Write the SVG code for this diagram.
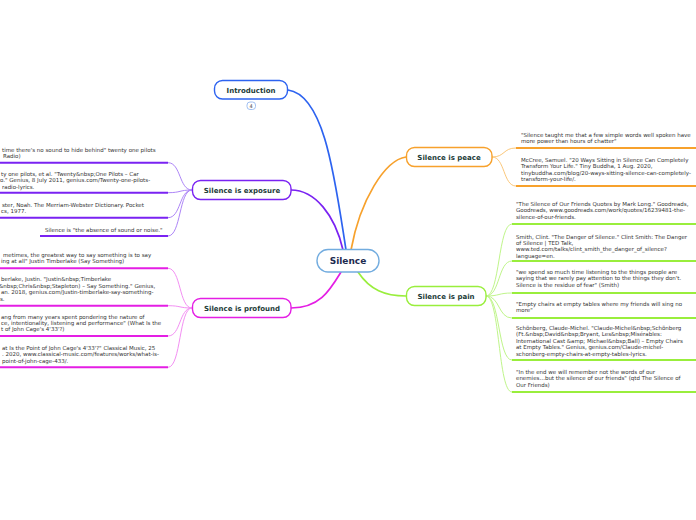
<svg xmlns="http://www.w3.org/2000/svg" width="696" height="520" viewBox="0 0 696 520">
<style>
.node{fill:#fff;stroke-width:1.4}
.nt{font-family:"DejaVu Sans",Verdana,sans-serif;font-weight:bold;font-size:7px;fill:#1b3b38;text-anchor:middle}
.lt{font-family:"DejaVu Sans",Verdana,sans-serif;font-size:5.5px;fill:#333}
.ul{stroke-width:2;fill:none}
.cv{stroke-width:1;fill:none}
.br{fill:none;stroke-width:1.7;stroke-linecap:round}
</style>
<rect width="696" height="520" fill="#fff"/>
<g id="connectors">
<path class="br" d="M288,90 C325,95 335,180 346,250" stroke="#2d63f0"/>
<path class="br" d="M291,190 C315,190 335,215 343,250" stroke="#7a22f2"/>
<path class="br" d="M406,157 C385,160 360,200 351,250" stroke="#f7a12c"/>
<path class="br" d="M291,308 C320,308 330,290 341,272" stroke="#e41ee4"/>
<path class="br" d="M406,296 C385,296 370,290 358,272" stroke="#99ee3c"/>
<g stroke="#ad85f7" class="cv">
<path class="cv" d="M168,162.7 C181,162.7 179,190 192,190"/>
<path class="cv" d="M168,192.7 C181,192.7 179,190 192,190"/>
<path class="cv" d="M168,217.7 C181,217.7 179,190 192,190"/>
<path class="cv" d="M168,236 C181,236 179,190 192,190"/>
</g>
<g stroke="#f38ff3" class="cv">
<path class="cv" d="M168,268.3 C181,268.3 179,308 192,308"/>
<path class="cv" d="M168,305.7 C181,305.7 179,308 192,308"/>
<path class="cv" d="M168,336 C181,336 179,308 192,308"/>
<path class="cv" d="M168,367.3 C181,367.3 179,308 192,308"/>
</g>
<g stroke="#fbc77a" class="cv">
<path class="cv" d="M492,157 C505,157 503,148 516,148"/>
<path class="cv" d="M492,157 C505,157 503,186 516,186"/>
</g>
<g stroke="#bff58a" class="cv">
<path class="cv" d="M486,296 C500,296 498,224 512,224"/>
<path class="cv" d="M486,296 C500,296 498,261 512,261"/>
<path class="cv" d="M486,296 C500,296 498,293 512,293"/>
<path class="cv" d="M486,296 C500,296 498,318 512,318"/>
<path class="cv" d="M486,296 C500,296 498,360 512,360"/>
<path class="cv" d="M486,296 C500,296 498,392 512,392"/>
</g>
</g>
<g id="center">
<rect class="node" x="317" y="249.5" width="62" height="22.5" rx="11" stroke="#72acdf" fill="#fafcff"/>
<text class="nt" x="348" y="264.3" style="font-size:9px;fill:#1d2b4f">Silence</text>
</g>
<g id="introduction">
<rect class="node" x="214.5" y="80.5" width="73" height="18.5" rx="8" stroke="#2d63f0"/>
<text class="nt" x="251" y="92.5">Introduction</text>
<rect x="247" y="102" width="8.5" height="7.5" rx="3" fill="#fff" stroke="#8ab0ee" stroke-width="0.8"/>
<text x="251.2" y="107.8" style="font-family:'DejaVu Sans',sans-serif;font-size:5px;fill:#444;text-anchor:middle">4</text>
</g>
<g id="exposure">
<rect class="node" x="192.5" y="180.5" width="98.5" height="19" rx="8" stroke="#7a22f2"/>
<text class="nt" x="242" y="192.6">Silence is exposure</text>
</g>
<g id="exposure-leaves">
<line class="ul" x1="0" y1="162.7" x2="168" y2="162.7" stroke="#7a22f2"/>
<text class="lt" x="2" y="152">time there's no sound to hide behind" twenty one pilots</text>
<text class="lt" x="3" y="158.2">Radio)</text>
<line class="ul" x1="0" y1="192.7" x2="168" y2="192.7" stroke="#7a22f2"/>
<text class="lt" x="1" y="176">ty one pilots, et al. "Twenty&amp;nbsp;One Pilots – Car</text>
<text class="lt" x="0" y="182.4">o." Genius, 8 July 2011, genius.com/Twenty-one-pilots-</text>
<text class="lt" x="2" y="188.8">radio-lyrics.</text>
<line class="ul" x1="0" y1="217.7" x2="168" y2="217.7" stroke="#7a22f2"/>
<text class="lt" x="2" y="206.5">ster, Noah. The Merriam-Webster Dictionary. Pocket</text>
<text class="lt" x="1" y="212.9">cs, 1977.</text>
<line class="ul" x1="40" y1="236" x2="168" y2="236" stroke="#7a22f2"/>
<text class="lt" x="45" y="232">Silence is "the absence of sound or noise."</text>
</g>
<g id="profound">
<rect class="node" x="192.5" y="298.5" width="98.5" height="19" rx="8" stroke="#e41ee4"/>
<text class="nt" x="242" y="310.6">Silence is profound</text>
</g>
<g id="profound-leaves">
<line class="ul" x1="0" y1="268.3" x2="168" y2="268.3" stroke="#e41ee4"/>
<text class="lt" x="3" y="257">metimes, the greatest way to say something is to say</text>
<text class="lt" x="1" y="263.4">ing at all" Justin Timberlake (Say Something)</text>
<line class="ul" x1="0" y1="305.7" x2="168" y2="305.7" stroke="#e41ee4"/>
<text class="lt" x="1" y="281.3">berlake, Justin. "Justin&amp;nbsp;Timberlake</text>
<text class="lt" x="-1" y="287.7">&amp;nbsp;Chris&amp;nbsp;Stapleton) – Say Something." Genius,</text>
<text class="lt" x="1" y="294.1">an. 2018, genius.com/Justin-timberlake-say-something-</text>
<text class="lt" x="0" y="300.5">s.</text>
<line class="ul" x1="0" y1="336" x2="168" y2="336" stroke="#e41ee4"/>
<text class="lt" x="1" y="318.5">ang from many years spent pondering the nature of</text>
<text class="lt" x="1" y="324.9">ce, intentionality, listening and performance" (What Is the</text>
<text class="lt" x="1" y="331.3">t of John Cage's 4'33'?)</text>
<line class="ul" x1="0" y1="367.3" x2="168" y2="367.3" stroke="#e41ee4"/>
<text class="lt" x="2" y="349.7">at Is the Point of John Cage's 4'33'?" Classical Music, 25</text>
<text class="lt" x="2" y="356.1">. 2020, www.classical-music.com/features/works/what-is-</text>
<text class="lt" x="2" y="362.5">point-of-john-cage-433/.</text>
</g>
<g id="peace">
<rect class="node" x="406.5" y="147.5" width="85.5" height="19" rx="8" stroke="#f7a12c"/>
<text class="nt" x="449" y="159.6">Silence is peace</text>
</g>
<g id="peace-leaves">
<line class="ul" x1="516" y1="148" x2="696" y2="148" stroke="#f7a12c"/>
<text class="lt" x="521" y="137">"Silence taught me that a few simple words well spoken have</text>
<text class="lt" x="521" y="143.4">more power than hours of chatter"</text>
<line class="ul" x1="516" y1="186" x2="696" y2="186" stroke="#f7a12c"/>
<text class="lt" x="521" y="162">McCree, Samuel. "20 Ways Sitting in Silence Can Completely</text>
<text class="lt" x="521" y="168.4">Transform Your Life." Tiny Buddha, 1 Aug. 2020,</text>
<text class="lt" x="521" y="174.8">tinybuddha.com/blog/20-ways-sitting-silence-can-completely-</text>
<text class="lt" x="521" y="181.2">transform-your-life/.</text>
</g>
<g id="pain">
<rect class="node" x="406.5" y="286.5" width="79.5" height="19" rx="8" stroke="#99ee3c"/>
<text class="nt" x="446" y="298.6">Silence is pain</text>
</g>
<g id="pain-leaves">
<line class="ul" x1="512" y1="224" x2="696" y2="224" stroke="#99ee3c"/>
<text class="lt" x="516" y="206">"The Silence of Our Friends Quotes by Mark Long." Goodreads,</text>
<text class="lt" x="516" y="212.4">Goodreads, www.goodreads.com/work/quotes/16239481-the-</text>
<text class="lt" x="516" y="218.8">silence-of-our-friends.</text>
<line class="ul" x1="512" y1="261" x2="696" y2="261" stroke="#99ee3c"/>
<text class="lt" x="516" y="238.5">Smith, Clint. "The Danger of Silence." Clint Smith: The Danger</text>
<text class="lt" x="516" y="244.9">of Silence | TED Talk,</text>
<text class="lt" x="516" y="251.3">www.ted.com/talks/clint_smith_the_danger_of_silence?</text>
<text class="lt" x="516" y="257.7">language=en.</text>
<line class="ul" x1="512" y1="293" x2="696" y2="293" stroke="#99ee3c"/>
<text class="lt" x="516" y="274">"we spend so much time listening to the things people are</text>
<text class="lt" x="516" y="280.4">saying that we rarely pay attention to the things they don't.</text>
<text class="lt" x="516" y="286.8">Silence is the residue of fear" (Smith)</text>
<line class="ul" x1="512" y1="318" x2="696" y2="318" stroke="#99ee3c"/>
<text class="lt" x="516" y="305.5">"Empty chairs at empty tables where my friends will sing no</text>
<text class="lt" x="516" y="311.9">more"</text>
<line class="ul" x1="512" y1="360" x2="696" y2="360" stroke="#99ee3c"/>
<text class="lt" x="516" y="330">Schönberg, Claude-Michel. "Claude-Michel&amp;nbsp;Schönberg</text>
<text class="lt" x="516" y="336.4">(Ft.&amp;nbsp;David&amp;nbsp;Bryant, Les&amp;nbsp;Misérables:</text>
<text class="lt" x="516" y="342.8">International Cast &amp;amp; Michael&amp;nbsp;Ball) – Empty Chairs</text>
<text class="lt" x="516" y="349.2">at Empty Tables." Genius, genius.com/Claude-michel-</text>
<text class="lt" x="516" y="355.6">schonberg-empty-chairs-at-empty-tables-lyrics.</text>
<line class="ul" x1="512" y1="392" x2="696" y2="392" stroke="#99ee3c"/>
<text class="lt" x="516" y="374">"In the end we will remember not the words of our</text>
<text class="lt" x="516" y="380.4">enemies…but the silence of our friends" (qtd The Silence of</text>
<text class="lt" x="516" y="386.8">Our Friends)</text>
</g>
</svg>
